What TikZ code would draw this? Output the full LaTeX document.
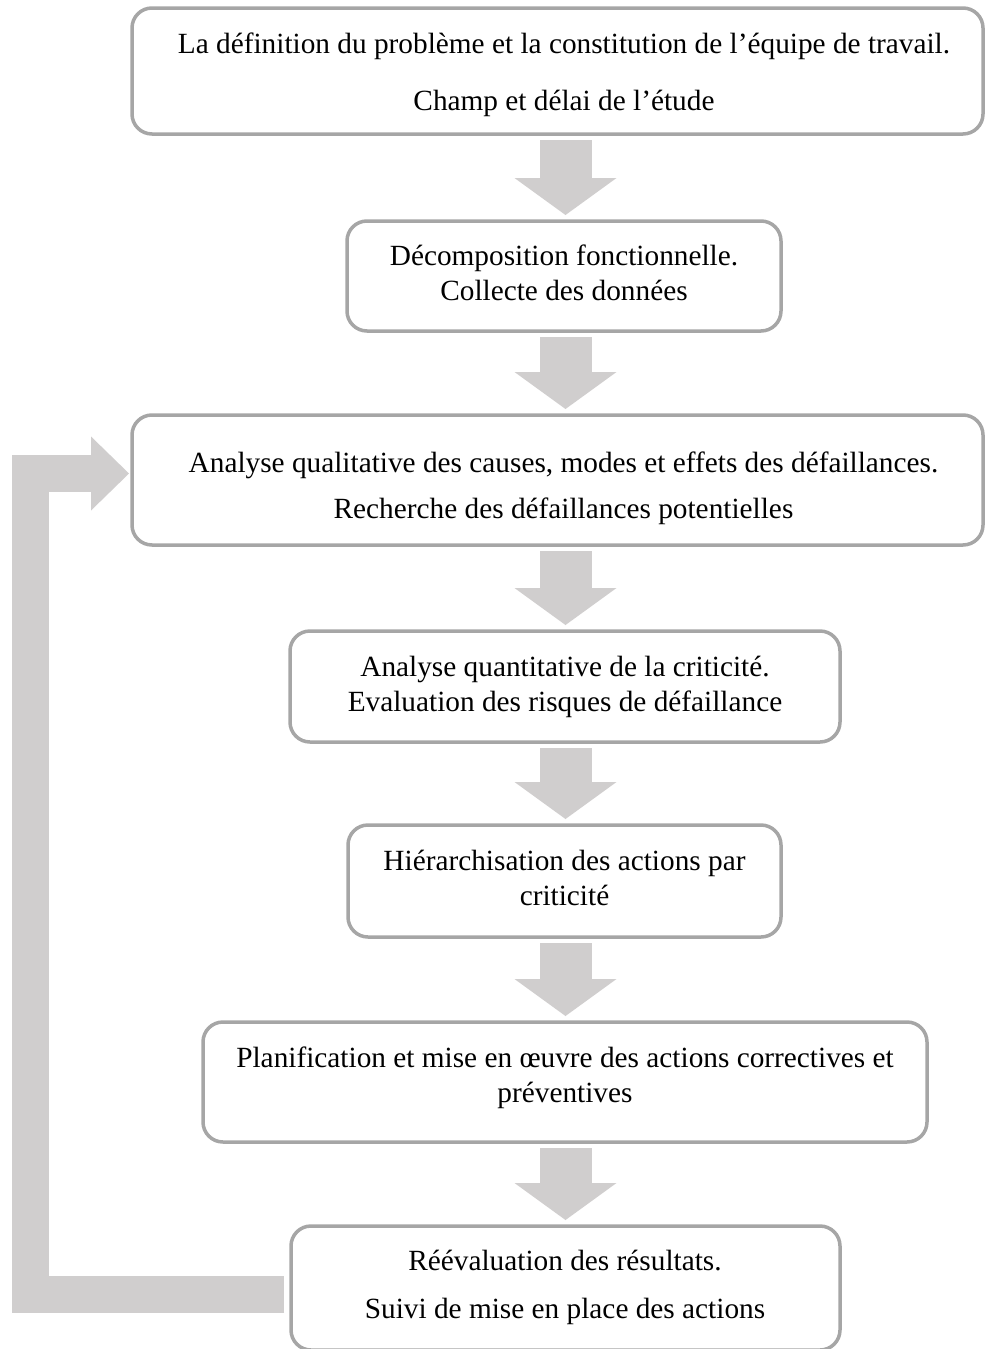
\documentclass[tikz,border=0pt]{standalone}
\usepackage{fontspec}
\newfontfamily\lbfont{Liberation Serif}
\usetikzlibrary{arrows.meta}

\definecolor{boxgray}{HTML}{A6A6A6}
\definecolor{arrowgray}{HTML}{D0CECE}

\tikzset{
  stage/.style={draw=boxgray, line width=3.5pt, rounded corners=20pt, fill=white,
    rectangle, inner sep=0pt, outer sep=0pt},
  lbl/.style={anchor=base, inner sep=0pt, outer sep=0pt,
    font=\lbfont\fontsize{29.3}{35.5}\selectfont},
  downarrow/.style={draw=arrowgray, line width=52pt, line cap=butt,
    -{Triangle[width=102pt,length=37pt,line width=0pt]},
    shorten <=6pt, shorten >=6pt},
  looparrow/.style={draw=arrowgray, line width=37pt, line cap=butt, line join=miter,
    -{Triangle[width=74pt,length=38pt,line width=0pt]}}
}

\begin{document}
\begin{tikzpicture}[x=1pt, y=-1pt]
  \useasboundingbox (0,0) rectangle (985,1349);
  \fill[white] (0,0) rectangle (985,1349);

  % stage boxes
  \node[stage, minimum width=851pt, minimum height=126pt] (b1) at (557.5,71) {};
  \node[stage, minimum width=434pt, minimum height=110pt] (b2) at (564,276) {};
  \node[stage, minimum width=851pt, minimum height=130pt] (b3) at (557.5,480) {};
  \node[stage, minimum width=550pt, minimum height=111pt] (b4) at (565,686.5) {};
  \node[stage, minimum width=433pt, minimum height=112pt] (b5) at (564.5,881) {};
  \node[stage, minimum width=724pt, minimum height=120pt] (b6) at (565,1082) {};
  \node[stage, minimum width=549pt, minimum height=124pt] (b7) at (565.5,1288) {};

  % box texts (anchored on the baseline of the first line)
  \node[lbl] (t1) at (564,53) {\begin{tabular}[t]{@{}c@{}}La définition du problème et la constitution de l’équipe de travail.\\[21.5pt]Champ et délai de l’étude\end{tabular}};
  \node[lbl] (t2) at (564,265) {\begin{tabular}[t]{@{}c@{}}Décomposition fonctionnelle.\\Collecte des données\end{tabular}};
  \node[lbl] (t3) at (563.5,472) {\begin{tabular}[t]{@{}c@{}}Analyse qualitative des causes, modes et effets des défaillances.\\[10.5pt]Recherche des défaillances potentielles\end{tabular}};
  \node[lbl] (t4) at (565,676) {\begin{tabular}[t]{@{}c@{}}Analyse quantitative de la criticité.\\Evaluation des risques de défaillance\end{tabular}};
  \node[lbl] (t5) at (564.5,870) {\begin{tabular}[t]{@{}c@{}}Hiérarchisation des actions par\\criticité\end{tabular}};
  \node[lbl] (t6) at (565,1067) {\begin{tabular}[t]{@{}c@{}}Planification et mise en œuvre des actions correctives et\\préventives\end{tabular}};
  \node[lbl] (t7) at (565,1270) {\begin{tabular}[t]{@{}c@{}}Réévaluation des résultats.\\[12.5pt]Suivi de mise en place des actions\end{tabular}};

  % axis of the down arrows
  \coordinate (ax) at (565.5,0);
  \draw[downarrow] (b1.south -| ax) -- (b2.north -| ax);
  \draw[downarrow] (b2.south -| ax) -- (b3.north -| ax);
  \draw[downarrow] (b3.south -| ax) -- (b4.north -| ax);
  \draw[downarrow] (b4.south -| ax) -- (b5.north -| ax);
  \draw[downarrow] (b5.south -| ax) -- (b6.north -| ax);
  \draw[downarrow] (b6.south -| ax) -- (b7.north -| ax);

  % feedback loop from the last stage back to the qualitative analysis
  \coordinate (fb) at (30,1294);
  \coordinate (ft) at (30,473.5);
  \draw[looparrow] ([xshift=-7pt]b7.west |- fb) -- (fb) -- (ft) -- ([xshift=-3pt]b3.west |- ft);
\end{tikzpicture}
\end{document}
